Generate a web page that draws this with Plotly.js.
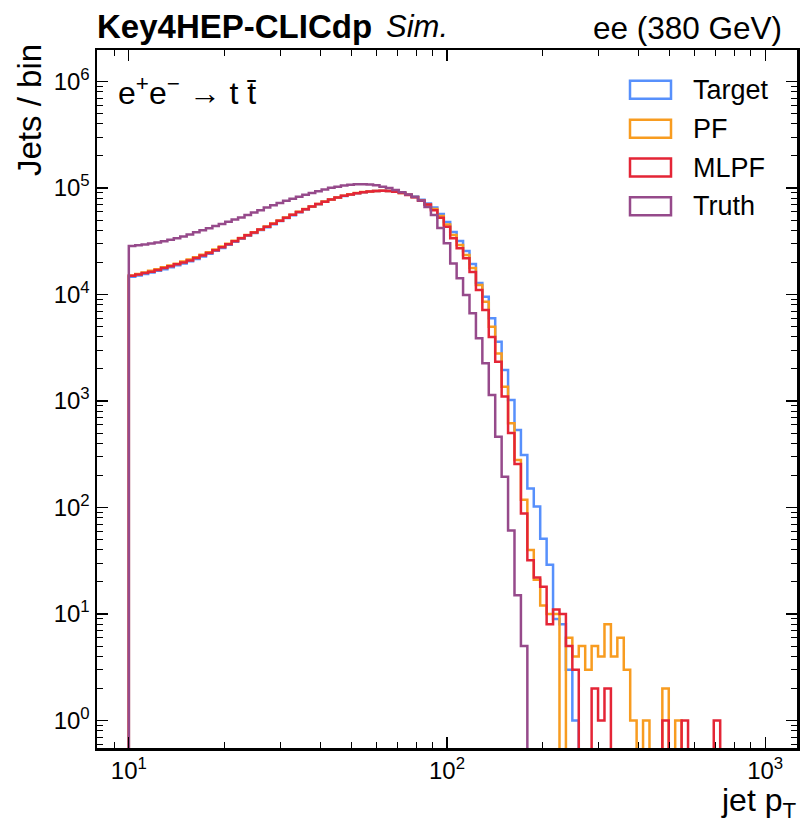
<!DOCTYPE html>
<html><head><meta charset="utf-8">
<script src="https://cdn.plot.ly/plotly-3.0.1.min.js"></script>
<style>html,body{margin:0;padding:0;background:#fff}#chart{width:802px;height:822px}</style>
</head><body><div id="chart"></div>
<script>
// histogram binning (log-spaced edges from 10 to 1000 GeV)
const binLow = 10, binHigh = 1000, nBins = 99;

const target = [
  14700, 15100, 15600, 16100, 16700, 17300, 18000, 18800, 19600, 20500,
  21600, 22800, 24200, 25700, 27400, 29300, 31300, 33400, 35600, 37900,
  40300, 42900, 45800, 48900, 52200, 55600, 59200, 62900, 66700, 70500,
  74200, 77900, 81200, 84300, 87000, 89300, 91200, 92600, 93600, 94100,
  93900, 92600, 90300, 87000, 83200, 77500, 71500, 65600, 57000, 48000,
  38600, 31800, 25600, 19300, 12800, 9530, 5980, 3600, 1955, 1020,
  534, 311, 151, 102, 51, 29, 9, 8, 3, 1,
  0, 0, 0, 0, 0, 0, 0, 0, 0, 0,
  0, 0, 0, 0, 0, 0, 0, 0, 0, 0,
  0, 0, 0, 0, 0, 0, 0, 0, 0
];
const pf = [
  15100, 15600, 16100, 16700, 17300, 18000, 18700, 19500, 20400, 21300,
  22400, 23600, 25000, 26500, 28200, 30000, 32000, 34000, 36200, 38500,
  40900, 43500, 46400, 49500, 52800, 56200, 59800, 63500, 67200, 70900,
  74600, 78200, 81500, 84600, 87300, 89700, 91600, 93000, 94000, 94400,
  94000, 92500, 90000, 86600, 82200, 76300, 69800, 63500, 54600, 45400,
  36200, 29200, 23500, 17700, 12300, 8560, 4990, 2800, 1360, 620,
  280, 118, 40, 21, 12, 10, 10, 0, 6, 4,
  5, 3, 5, 4, 8, 4, 6, 3, 1, 0,
  1, 0, 0, 2, 0, 1, 0, 0, 0, 0,
  0, 0, 0, 0, 0, 0, 0, 0, 0
];
const mlpf = [
  15000, 15400, 15900, 16400, 17000, 17700, 18400, 19200, 20000, 20900,
  22000, 23200, 24600, 26100, 27800, 29700, 31700, 33800, 36000, 38300,
  40700, 43300, 46200, 49300, 52600, 56000, 59600, 63300, 67000, 70700,
  74400, 78000, 81300, 84400, 87100, 89400, 91300, 92700, 93700, 94200,
  93800, 92300, 89800, 86200, 81800, 76000, 70000, 62000, 52500, 43300,
  33700, 27200, 21900, 16300, 11000, 7150, 4000, 2340, 1100, 500,
  256, 88, 32, 22, 18, 8, 11, 10, 5, 3,
  0, 0, 2, 1, 2, 0, 0, 0, 0, 0,
  0, 0, 0, 1, 0, 0, 1, 0, 0, 0,
  0, 1, 0, 0, 0, 0, 0, 0, 0
];
const truth = [
  28500, 29000, 29500, 30100, 30800, 31600, 32600, 33800, 35100, 36600,
  38400, 40200, 42000, 44000, 46000, 48300, 50500, 53000, 55800, 58800,
  62000, 65500, 69000, 72500, 76000, 79500, 83000, 86500, 90000, 93500,
  97000, 100500, 103000, 105500, 107300, 108300, 108500, 107800, 106000, 103000,
  100000, 96000, 91500, 87000, 82500, 76500, 66500, 55800, 42100, 30300,
  19600, 14200, 9900, 6660, 3880, 2260, 1140, 462, 195, 61,
  15, 5, 0, 0, 0, 0, 0, 0, 0, 0,
  0, 0, 0, 0, 0, 0, 0, 0, 0, 0,
  0, 0, 0, 0, 0, 0, 0, 0, 0, 0,
  0, 0, 0, 0, 0, 0, 0, 0, 0
];

const seriesNames = ['Target', 'PF', 'MLPF', 'Truth'];
const seriesColors = ['#5790fc', '#f89c20', '#e42536', '#964a8b'];
const seriesData = [target, pf, mlpf, truth];

const yTickVals = [1, 10, 100, 1000, 10000, 100000, 1000000];
const yTickText = ['10<sup>0</sup>', '10<sup>1</sup>', '10<sup>2</sup>', '10<sup>3</sup>', '10<sup>4</sup>', '10<sup>5</sup>', '10<sup>6</sup>'];
const xTickVals = [10, 100, 1000];
const xTickText = ['10<sup>1</sup>', '10<sup>2</sup>', '10<sup>3</sup>'];

const edges = [];
for (let i = 0; i <= nBins; i++) edges.push(binLow * Math.pow(binHigh / binLow, i / nBins));
const floorVal = 1e-3;

function stepTrace(counts, name, color) {
  const x = [edges[0]], y = [floorVal];
  counts.forEach((c, i) => { x.push(edges[i]); y.push(c > 0 ? c : floorVal); });
  const last = counts[counts.length - 1];
  x.push(edges[nBins]); y.push(last > 0 ? last : floorVal);
  x.push(edges[nBins]); y.push(floorVal);
  return {type: 'scatter', mode: 'lines', x, y, name,
    line: {color, width: 2.5, shape: 'hv', simplify: false},
    showlegend: false, hoverinfo: 'skip'};
}
const traces = seriesData.map((d, k) => stepTrace(d, seriesNames[k], seriesColors[k]));

function minorVals(lo, hi) {
  const v = [];
  for (let d = lo; d <= hi; d *= 10) for (let m = 2; m <= 9; m++) v.push(m * d);
  return v;
}

const W = 802, H = 822, L = 97, R = 5, T = 50, B = 74;
const pw = W - L - R, ph = H - T - B;
const px = x => (x - L) / pw;
const py = y => (H - B - y) / ph;

const font = 'Liberation Sans, Arial, sans-serif';
const shapes = [], annotations = [];
const legRows = [89.7, 128.7, 167.5, 206.3];
seriesNames.forEach((n, k) => {
  shapes.push({type: 'rect', xref: 'paper', yref: 'paper',
    x0: px(630), x1: px(671), y0: py(legRows[k] + 9), y1: py(legRows[k] - 9),
    line: {color: seriesColors[k], width: 2.5}, fillcolor: 'rgba(0,0,0,0)'});
  annotations.push({xref: 'paper', yref: 'paper', x: px(691), y: py(legRows[k]),
    xanchor: 'left', yanchor: 'middle', showarrow: false, text: n,
    font: {family: font, size: 27, color: '#000'}});
});
annotations.push(
  {xref: 'paper', yref: 'paper', x: px(95), y: py(27), xanchor: 'left', yanchor: 'middle', showarrow: false,
   text: '<b>Key4HEP-CLICdp</b>', font: {family: font, size: 33, color: '#000'}},
  {xref: 'paper', yref: 'paper', x: px(384), y: py(27), xanchor: 'left', yanchor: 'middle', showarrow: false,
   text: '<i>Sim.</i>', font: {family: font, size: 31, color: '#000'}},
  {xref: 'paper', yref: 'paper', x: px(784), y: py(28), xanchor: 'right', yanchor: 'middle', showarrow: false,
   text: 'ee (380 GeV)', font: {family: font, size: 31.5, color: '#000'}},
  {xref: 'paper', yref: 'paper', x: px(116), y: py(91), xanchor: 'left', yanchor: 'middle', showarrow: false,
   text: 'e<sup>+</sup>e<sup>\u2212</sup> \u2192 t t\u0304', font: {family: font, size: 32, color: '#000'}},
  {xref: 'paper', yref: 'paper', x: px(29), y: py(42), xanchor: 'center', yanchor: 'top', showarrow: false,
   textangle: -90, text: 'Jets / bin', font: {family: font, size: 33, color: '#000'}},
  {xref: 'paper', yref: 'paper', x: px(798), y: py(802), xanchor: 'right', yanchor: 'middle', showarrow: false,
   text: 'jet p<sub>T</sub>', font: {family: font, size: 32, color: '#000'}}
);

const axisCommon = {
  type: 'log', showgrid: false, zeroline: false, showline: true, linecolor: '#000', linewidth: 2.5,
  mirror: 'allticks', ticks: 'inside', ticklen: 11, tickwidth: 1.2, tickcolor: '#000',
  tickfont: {family: font, size: 24, color: '#000'}, tickmode: 'array', automargin: false
};
const layout = {
  width: W, height: H, margin: {l: L, r: R, t: T, b: B}, paper_bgcolor: '#fff', plot_bgcolor: '#fff',
  showlegend: false,
  xaxis: Object.assign({}, axisCommon, {range: [0.9, 3.1], tickvals: xTickVals, ticktext: xTickText,
    minor: {ticks: 'inside', ticklen: 6, tickwidth: 1, tickcolor: '#000', tickmode: 'array', tickvals: minorVals(1, 1000)}}),
  yaxis: Object.assign({}, axisCommon, {range: [-0.258, 6.296], tickvals: yTickVals, ticktext: yTickText,
    minor: {ticks: 'inside', ticklen: 6, tickwidth: 1, tickcolor: '#000', tickmode: 'array', tickvals: minorVals(0.1, 1000000)}}),
  shapes, annotations
};
Plotly.newPlot('chart', traces, layout, {staticPlot: true, displayModeBar: false});
</script>
</body></html>
